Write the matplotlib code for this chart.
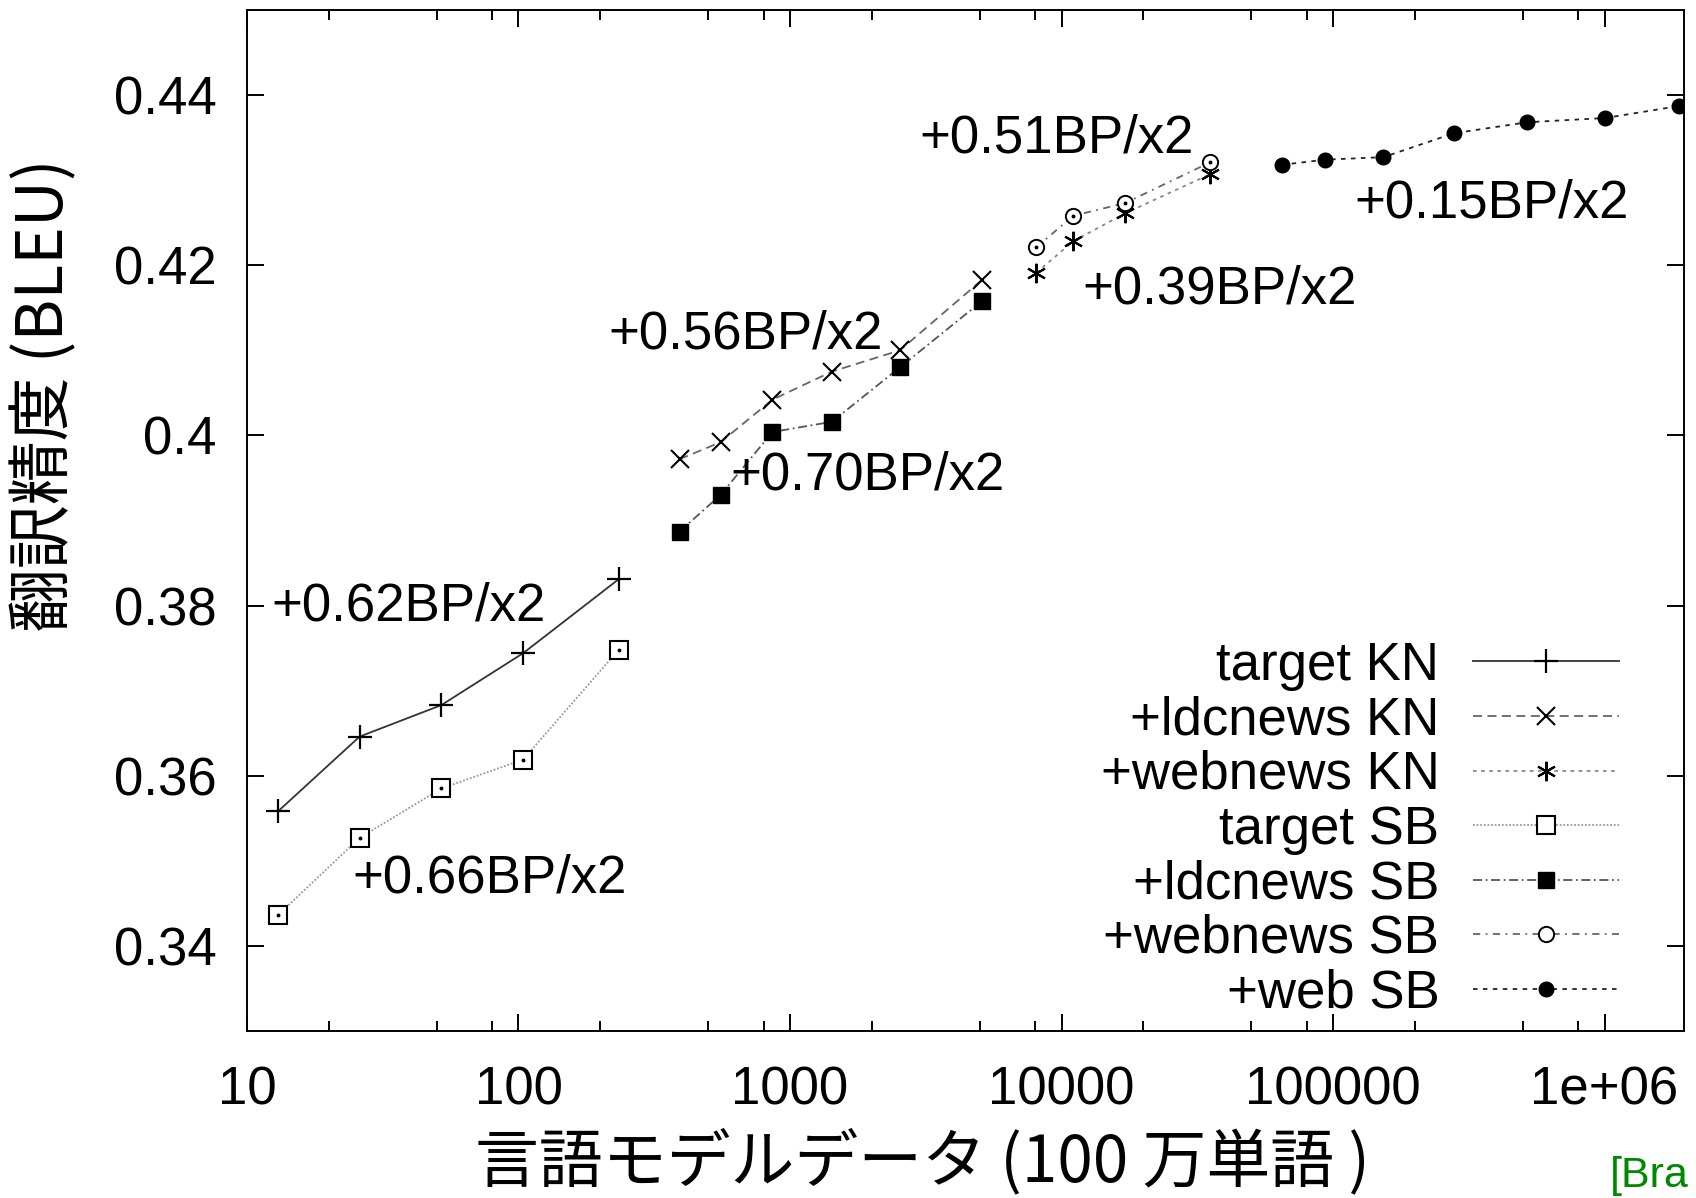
import matplotlib.pyplot as plt
from matplotlib.ticker import LogLocator, NullFormatter, FixedLocator

# 言語モデルデータ量 (100万単語) と BLEU
target_x = [13, 26, 52, 104, 234]
target_kn = [0.3558, 0.3646, 0.3683, 0.3744, 0.3831]
target_sb = [0.3436, 0.3527, 0.3585, 0.3619, 0.3748]

ldcnews_x = [392, 555, 862, 1427, 2541, 5105]
ldcnews_kn = [0.3972, 0.3992, 0.4042, 0.4075, 0.4100, 0.4183]
ldcnews_sb = [0.3887, 0.3930, 0.4004, 0.4016, 0.4080, 0.4158]

webnews_x = [8072, 11030, 17130, 35320]
webnews_kn = [0.4191, 0.4228, 0.4261, 0.4307]
webnews_sb = [0.4221, 0.4258, 0.4273, 0.4321]

web_x = [64730, 93330, 153300, 278000, 518700, 1004000, 1875000]
web_sb = [0.4318, 0.4324, 0.4327, 0.4355, 0.4368, 0.4373, 0.4387]

# 傾きの注記
gain_labels = ['+0.62BP/x2', '+0.66BP/x2', '+0.56BP/x2', '+0.70BP/x2',
               '+0.51BP/x2', '+0.39BP/x2', '+0.15BP/x2']
gain_x = [12.35, 24.5, 213.8, 602, 2999, 11970, 119700]
gain_y = [0.3799, 0.3479, 0.4118, 0.3953, 0.4349, 0.4172, 0.4273]

x_ticks = [10, 100, 1000, 10000, 100000, 1000000]
x_tick_labels = ['10', '100', '1000', '10000', '100000', '1e+06']
y_ticks = [0.34, 0.36, 0.38, 0.40, 0.42, 0.44]
y_tick_labels = ['0.34', '0.36', '0.38', '0.4', '0.42', '0.44']

plt.rcParams['font.family'] = ['Liberation Sans', 'Noto Sans CJK JP']
FS = 38
CJK = ['Noto Sans CJK JP', 'DejaVu Sans']

fig = plt.figure(figsize=(16.96, 11.98), dpi=100)
ax = fig.add_axes([0.1456, 0.1394, 0.8473, 0.8523])

lw = 1.3
series = [
    (target_x, target_kn, 'target KN', dict(color='#333333', linestyle='-', marker='+', markersize=17, mew=1.6)),
    (ldcnews_x, ldcnews_kn, '+ldcnews KN', dict(color='#666666', linestyle=(0, (5, 3)), marker='x', markersize=13, mew=1.5)),
    (webnews_x, webnews_kn, '+webnews KN', dict(color='#888888', linestyle=(0, (2, 2.5)), marker=(6, 2, 0), markersize=14, mew=1.5)),
    (target_x, target_sb, 'target SB', dict(color='#999999', linestyle=(0, (1, 1)), marker='s', markersize=13, mew=1.5, mfc='white')),
    (ldcnews_x, ldcnews_sb, '+ldcnews SB', dict(color='#555555', linestyle=(0, (5, 2, 1, 2)), marker='s', markersize=12)),
    (webnews_x, webnews_sb, '+webnews SB', dict(color='#666666', linestyle=(0, (4, 3, 1, 3)), marker='o', markersize=11, mew=1.4, mfc='white')),
    (web_x, web_sb, '+web SB', dict(color='#222222', linestyle=(0, (2.5, 3)), marker='o', markersize=10.5)),
]
for xs, ys, label, style in series:
    hollow = style.get('mfc') == 'white'
    ax.plot(xs, ys, label=label, linewidth=lw, mec='black',
            mfc=style.pop('mfc', 'black'), **style)
    if hollow:
        # gnuplot 風に中心の点
        ax.plot(xs, ys, linestyle='none', marker='o', markersize=1.8, color='black')

for txt, gx, gy in zip(gain_labels, gain_x, gain_y):
    ax.text(gx, gy, txt, fontsize=FS, ha='left', va='center')

ax.set_xscale('log')
ax.set_xlim(10, 1.96e6)
ax.set_ylim(0.33, 0.45)
ax.set_xticks(x_ticks)
ax.set_xticklabels(x_tick_labels)
ax.xaxis.set_minor_locator(LogLocator(base=10, subs=[2, 5, 8], numticks=20))
ax.xaxis.set_minor_formatter(NullFormatter())
ax.yaxis.set_major_locator(FixedLocator(y_ticks))
ax.set_yticklabels(y_tick_labels)

ax.tick_params(which='both', direction='in', top=True, right=True, colors='black', width=1.4)
ax.tick_params(which='major', length=12.5)
ax.tick_params(which='minor', length=7)
ax.tick_params(axis='x', labelsize=FS, pad=25)
ax.tick_params(axis='y', labelsize=FS, pad=22)
for sp in ax.spines.values():
    sp.set_linewidth(1.4)

ax.set_xlabel('言語モデルデータ (100 万単語 )', fontsize=46, family=CJK, va='center')
ax.xaxis.set_label_coords(0.47, -0.129)
ax.set_ylabel('翻訳精度 (BLEU)', fontsize=46, family=CJK, va='center')
ax.yaxis.set_label_coords(-0.1406, 0.623)

ax.legend(loc='lower right', bbox_to_anchor=(0.955, 0.0126), frameon=False,
          markerfirst=False, numpoints=1, fontsize=FS, handlelength=2.77,
          handletextpad=0.64, labelspacing=0.086, borderpad=0, borderaxespad=0)

# 出典 (元画像では右下で切れている)
fig.text(1610 / 1696, 0.002, '[Bra', fontsize=31, color='#008800', ha='left', va='bottom')

fig.savefig('out.png', dpi=100)
